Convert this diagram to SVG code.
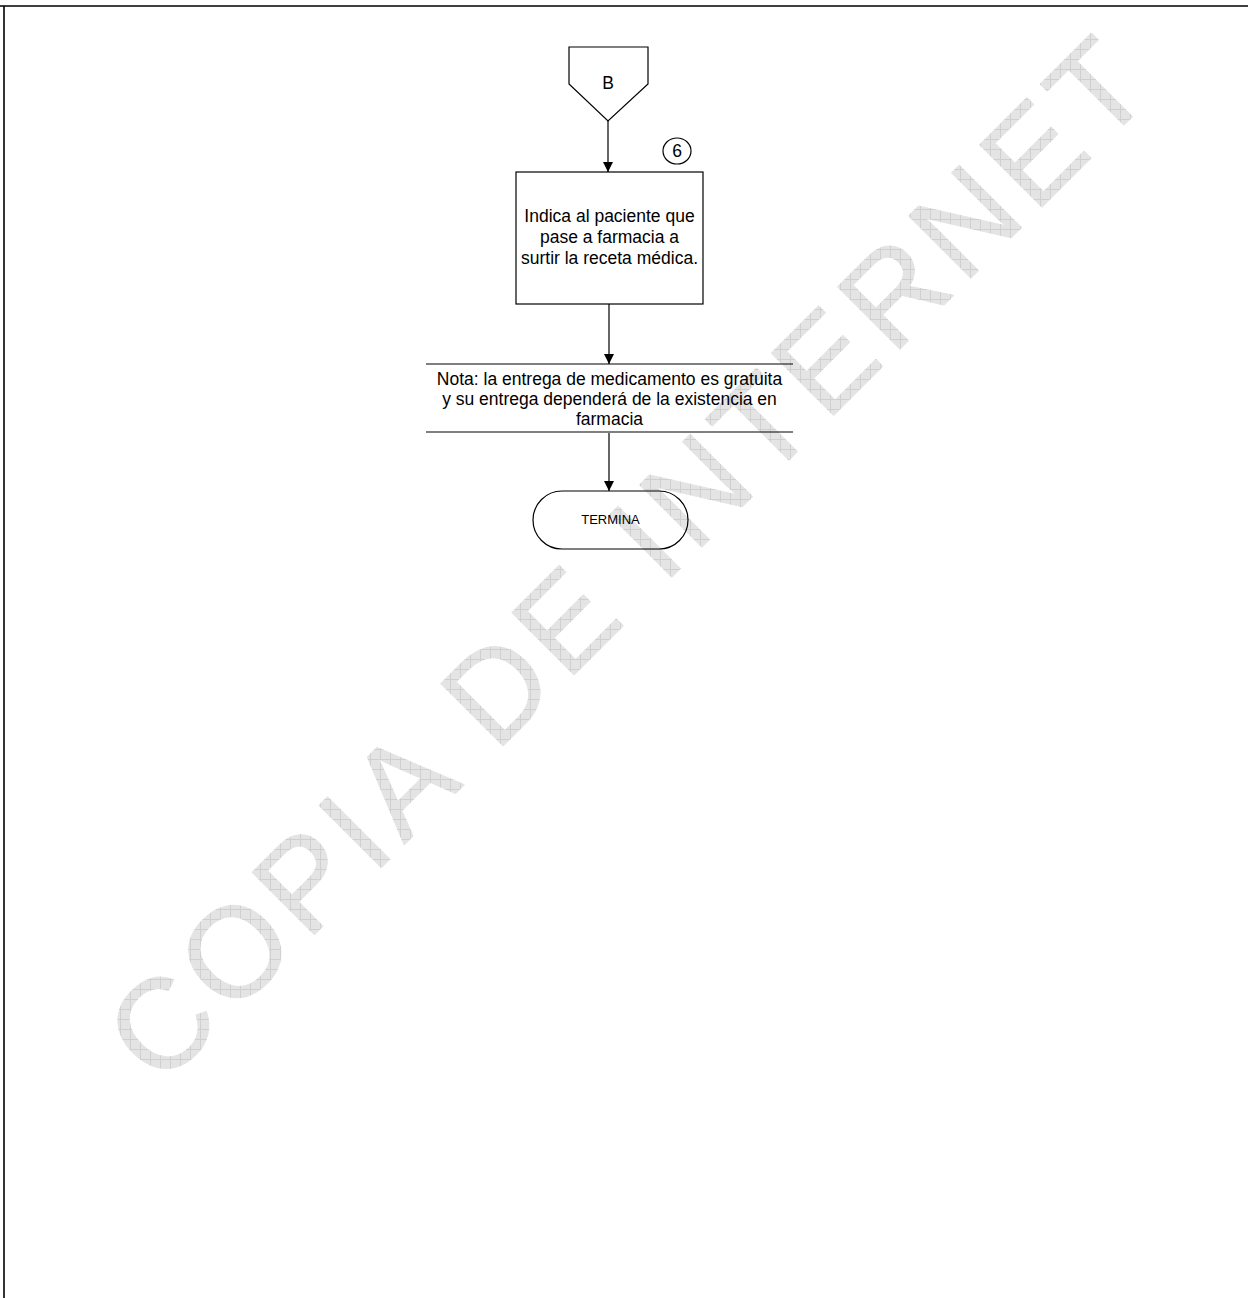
<svg xmlns="http://www.w3.org/2000/svg" width="1248" height="1298" viewBox="0 0 1248 1298">
  <defs>
    <pattern id="grid" patternUnits="userSpaceOnUse" width="10" height="10" patternTransform="rotate(45)">
      <rect width="10" height="10" fill="#e4e4e4"/>
      <path d="M0,0.5 H10 M0.5,0 V10" stroke="#d0d0d0" stroke-width="1" fill="none"/>
    </pattern>
    <marker id="arrow" markerUnits="userSpaceOnUse" markerWidth="11" markerHeight="10" refX="10" refY="5" orient="auto">
      <path d="M0,0 L10,5 L0,10 z" fill="#000"/>
    </marker>
  </defs>
  <style>
    .shape { fill: none; stroke: #000; stroke-width: 1.2; }
    .conn { fill: none; stroke: #000; stroke-width: 1.2; marker-end: url(#arrow); }
    .lbl { font-family: "Liberation Sans", Arial, sans-serif; font-size: 17.5px; fill: #000; text-anchor: middle; }
    .small { font-family: "Liberation Sans", Arial, sans-serif; font-size: 13px; fill: #000; text-anchor: middle; }
    .wm { font-family: "Liberation Sans", Arial, sans-serif; font-size: 128px; fill: url(#grid); stroke: url(#grid); stroke-width: 1; stroke-linejoin: round; letter-spacing: 8px; }
  </style>
  <rect width="1248" height="1298" fill="#fff"/>

  <g id="watermark">
    <text class="wm" transform="translate(160,1089) rotate(-45)" x="0" y="0">COPIA DE INTERNET</text>
  </g>

  <g id="frame">
    <line x1="0" y1="6" x2="1248" y2="6" stroke="#000" stroke-width="1.6"/>
    <line x1="4" y1="6" x2="4" y2="1298" stroke="#000" stroke-width="1.6"/>
  </g>

  <g id="connectors">
    <line class="conn" x1="608" y1="121" x2="608" y2="172"/>
    <line class="conn" x1="609" y1="304" x2="609" y2="364"/>
    <line class="conn" x1="609" y1="433" x2="609" y2="491"/>
  </g>

  <g id="node-B">
    <path class="shape" d="M569,47 L648,47 L648,84 L608,121 L569,84 Z"/>
    <text class="lbl" x="608" y="89" font-size="15">B</text>
  </g>

  <g id="node-6">
    <ellipse class="shape" cx="677" cy="151" rx="14" ry="13"/>
    <text class="lbl" x="677" y="157">6</text>
  </g>

  <g id="node-indica">
    <rect class="shape" x="516" y="172" width="187" height="132"/>
    <text class="lbl" x="609.5" y="222">Indica al paciente que</text>
    <text class="lbl" x="609.5" y="243">pase a farmacia a</text>
    <text class="lbl" x="609.5" y="264">surtir la receta médica.</text>
  </g>

  <g id="node-nota">
    <line class="shape" x1="426" y1="364" x2="793" y2="364"/>
    <line class="shape" x1="426" y1="432" x2="793" y2="432"/>
    <text class="lbl" x="609.5" y="385">Nota: la entrega de medicamento es gratuita</text>
    <text class="lbl" x="609.5" y="405">y su entrega dependerá de la existencia en</text>
    <text class="lbl" x="609.5" y="425">farmacia</text>
  </g>

  <g id="node-termina">
    <rect class="shape" x="533" y="491" width="155" height="58" rx="29" ry="29"/>
    <text class="small" x="610.5" y="524">TERMINA</text>
  </g>
</svg>
